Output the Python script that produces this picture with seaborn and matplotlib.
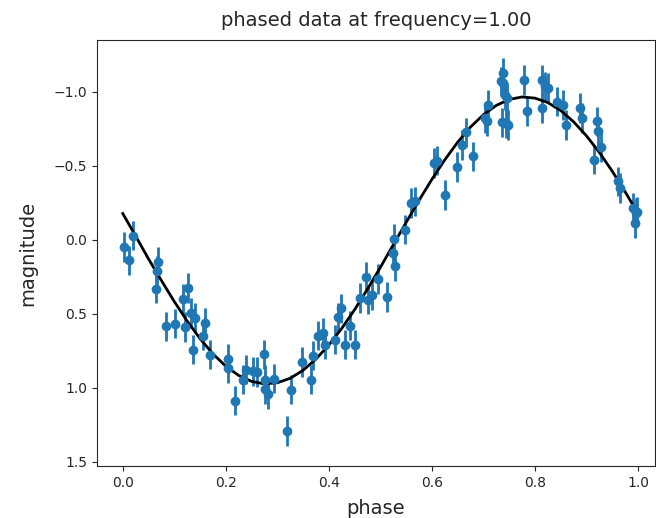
import matplotlib
matplotlib.use("Agg")
import matplotlib.pyplot as plt
import seaborn as sns
import numpy as np
import pandas as pd

title = "phased data at frequency=1.00"
xlabel = "phase"
ylabel = "magnitude"

phase = [0.002, 0.012, 0.020, 0.069, 0.067, 0.064, 0.083, 0.102, 0.117, 0.121,
         0.127, 0.133, 0.140, 0.159, 0.156, 0.137, 0.169, 0.205, 0.205, 0.217,
         0.234, 0.240, 0.253, 0.274, 0.276, 0.260, 0.276, 0.281, 0.294, 0.326,
         0.318, 0.347, 0.366, 0.370, 0.379, 0.389, 0.392, 0.412, 0.417, 0.424,
         0.441, 0.431, 0.450, 0.460, 0.473, 0.476, 0.483, 0.496, 0.512, 0.525,
         0.528, 0.527, 0.548, 0.560, 0.567, 0.625, 0.604, 0.610, 0.648, 0.658,
         0.667, 0.680, 0.703, 0.706, 0.709, 0.737, 0.738, 0.738, 0.735, 0.742,
         0.745, 0.747, 0.743, 0.779, 0.784, 0.813, 0.819, 0.826, 0.813, 0.842,
         0.855, 0.861, 0.887, 0.891, 0.920, 0.923, 0.928, 0.915, 0.962, 0.965,
         0.991, 0.997, 0.999, 0.994]
mag = [0.049, 0.140, -0.027, 0.150, 0.210, 0.330, 0.586, 0.568, 0.400, 0.590,
       0.326, 0.495, 0.530, 0.563, 0.649, 0.743, 0.777, 0.806, 0.867, 1.088,
       0.946, 0.878, 0.890, 0.775, 1.010, 0.896, 0.946, 1.045, 0.939, 1.013,
       1.295, 0.826, 0.946, 0.784, 0.649, 0.630, 0.709, 0.676, 0.525, 0.465,
       0.581, 0.709, 0.709, 0.394, 0.252, 0.405, 0.372, 0.266, 0.387, 0.090,
       0.180, -0.005, -0.068, -0.248, -0.259, -0.304, -0.520, -0.535, -0.491, -0.642,
       -0.725, -0.563, -0.822, -0.800, -0.912, -0.793, -1.059, -1.126, -1.070, -0.980,
       -0.957, -0.777, -0.788, -1.081, -0.867, -1.081, -1.036, -1.025, -0.890, -0.934,
       -0.912, -0.777, -0.890, -0.822, -0.800, -0.732, -0.626, -0.541, -0.394, -0.349,
       -0.214, -0.180, -0.190, -0.113]
mag_err = 0.1

fit_phase = [0.000, 0.025, 0.050, 0.075, 0.100, 0.125, 0.150, 0.175, 0.200, 0.225,
             0.250, 0.275, 0.300, 0.325, 0.350, 0.375, 0.400, 0.425, 0.450, 0.475,
             0.500, 0.525, 0.550, 0.575, 0.600, 0.625, 0.650, 0.675, 0.700, 0.725,
             0.750, 0.775, 0.800, 0.825, 0.850, 0.875, 0.900, 0.925, 0.950, 0.975, 1.000]
fit_mag = [-0.177, -0.025, 0.130, 0.276, 0.418, 0.550, 0.669, 0.772, 0.855, 0.918,
           0.958, 0.975, 0.967, 0.937, 0.883, 0.807, 0.712, 0.600, 0.473, 0.334,
           0.187, 0.035, -0.117, -0.266, -0.408, -0.540, -0.659, -0.762, -0.845, -0.908,
           -0.948, -0.965, -0.957, -0.927, -0.873, -0.797, -0.702, -0.590, -0.463, -0.324, -0.177]

dark = '#262626'
plt.rcParams.update({
    'text.color': dark, 'axes.labelcolor': dark, 'axes.edgecolor': dark,
    'xtick.color': dark, 'ytick.color': dark,
})

fig = plt.figure(figsize=(6.56, 5.18), dpi=100)
ax = fig.add_axes([97/656, 1 - 466/518, (655 - 97)/656, (466 - 40)/518])

ax.errorbar(phase, mag, yerr=mag_err, fmt='o', color='#1f77b4',
            ecolor='#1f77b4', elinewidth=2, markersize=6)
fit_df = pd.DataFrame({"phase": fit_phase, "mag": fit_mag})
sns.lineplot(data=fit_df, x="phase", y="mag", color='black', linewidth=2,
             ax=ax, sort=False)

ax.set_xlim(-0.05, 1.033)
ax.set_ylim(1.53, -1.35)
ax.set_xticks([0.0, 0.2, 0.4, 0.6, 0.8, 1.0])
ax.set_xlabel(xlabel, fontsize=14, labelpad=7)
ax.set_ylabel(ylabel, fontsize=14, labelpad=12)
ax.set_title(title, fontsize=14, pad=10)

fig.savefig("out.png", dpi=100)
